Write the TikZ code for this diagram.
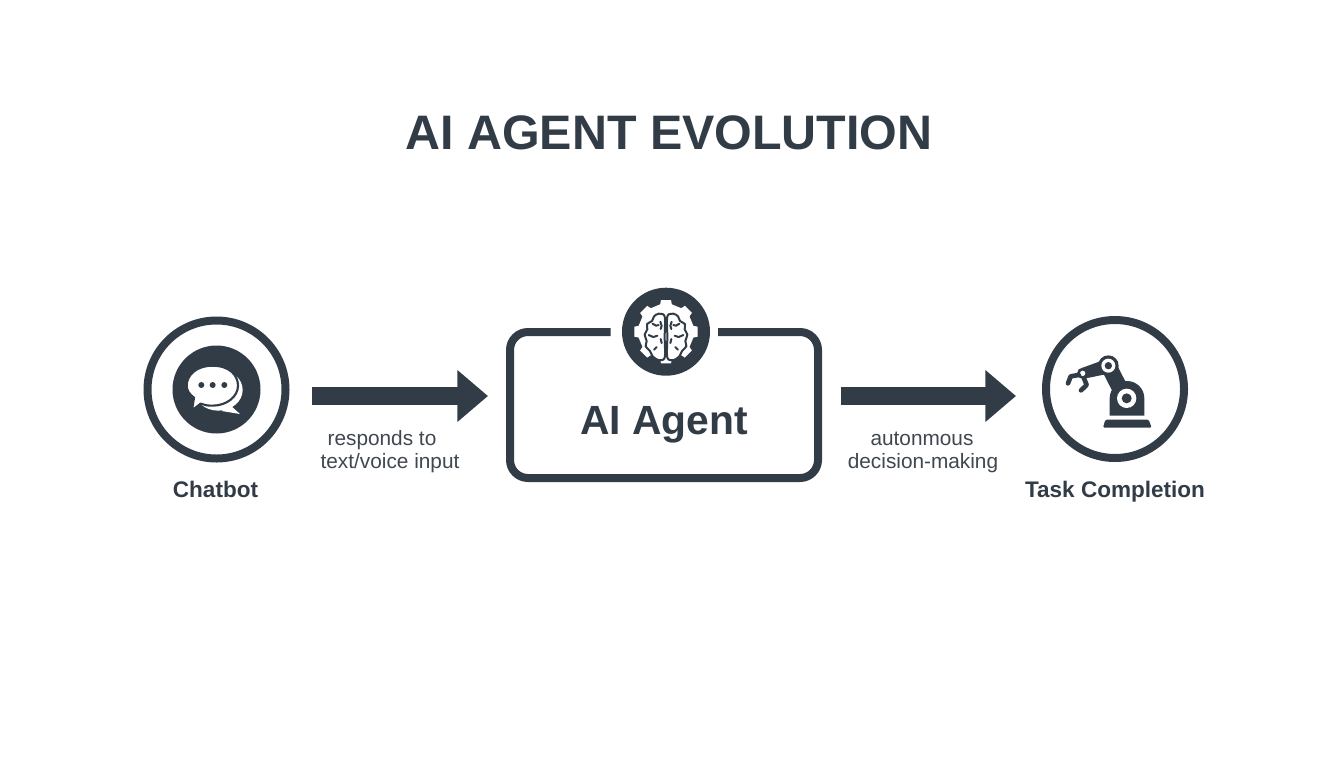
\documentclass[tikz,border=0pt]{standalone}
\usepackage{fontspec}
\setmainfont{Liberation Sans}
\usetikzlibrary{arrows.meta}
\definecolor{ink}{HTML}{323C47}
\definecolor{labelink}{HTML}{3F4750}
\tikzset{
  ringnode/.style={circle,draw=ink,line width=6pt,minimum size=103.5pt,inner sep=0pt},
  framenode/.style={rectangle,minimum width=231pt,minimum height=109.5pt,inner sep=0pt},
  discnode/.style={circle,fill=ink,minimum size=66pt,inner sep=0pt},
  titletext/.style={anchor=base,text=ink,font=\bfseries\fontsize{36.3}{40}\selectfont,inner sep=0pt},
  agenttext/.style={anchor=base,text=ink,font=\bfseries\fontsize{30.6}{34}\selectfont,inner sep=0pt},
  nametext/.style={anchor=base,text=ink,font=\bfseries\fontsize{16.9}{20}\selectfont,inner sep=0pt},
  notetext/.style={anchor=base,text=labelink,font=\fontsize{15.6}{19}\selectfont,inner sep=0pt},
  flowarrow/.style={draw=ink,fill=ink,line width=13.5pt,-{Triangle[length=23pt,width=37.5pt,fill=ink]}},
  dline/.style={draw=ink,line cap=round,line join=round}
}
\begin{document}
\begin{tikzpicture}[x=0.75pt,y=-0.75pt]
\useasboundingbox (0,0) rectangle (1344,768);
\fill[white] (0,0) rectangle (1344,768);

\node[titletext] (title) at (669,149) {AI AGENT EVOLUTION};

% Chatbot
\node[ringnode] (chatbot) at (216.5,389.5) {};
\node[discnode] (chatdisc) at (216.5,389.5) {};
\begin{scope}[shift={(130,305)},x=0.25pt,y=-0.25pt]
  \fill[white] (265,255) ellipse [x radius=73,y radius=62];
  \fill[white] (300,300) -- (330,327) -- (275,318) -- cycle;
  \draw[ink,fill=white,line width=1.6pt,line join=round]
    (247,182) .. controls (300,182) and (324,212) .. (324,242)
    .. controls (324,275) and (290,302) .. (247,302)
    .. controls (232,302) and (222,300) .. (212,296)
    -- (186,316) -- (192,278)
    .. controls (178,268) and (170,256) .. (170,242)
    .. controls (170,210) and (200,182) .. (247,182) -- cycle;
  \foreach \q in {214,248,283}{\fill[ink] (\q,240) circle (9);}
\end{scope}
\node[nametext] (chatlabel) at (215.5,497) {Chatbot};

% AI Agent frame
\node[framenode] (agent) at (664,405) {};
\draw[ink,line width=6pt,rounded corners=13.5pt]
  (610.5,332) -- (510,332) -- (510,478) -- (818,478) -- (818,332) -- (718,332);
\node[discnode] (agentdisc) at (666,331.7) {};
\begin{scope}[shift={(666,331.7)},x=0.25pt,y=-0.25pt]
  % gear
  \fill[white] (-9:84)
    \foreach \g in {0,45,...,315}{
      -- (\g-12:84) -- (\g-9:96) -- (\g+9:96) -- (\g+12:84) -- (\g+33:84)
    } -- cycle;
  % brain
  \foreach \s in {1,-1}{
    \begin{scope}[xscale=\s]
      \draw[ink,fill=white,line width=1.5pt,line join=round]
        plot[smooth cycle,tension=0.5] coordinates {
          (-4,-46) (-22,-54) (-36,-46) (-42,-32) (-57,-23) (-56,-7) (-64,9)
          (-58,28) (-61,44) (-48,58) (-40,74) (-23,85) (-4,78) (-4,15)};
      \draw[dline,line width=1.5pt] (-40,-24) -- (-30,-18) -- (-22,-20);
      \draw[dline,line width=1.5pt] (-17,-30) -- (-13,-18) -- (-16,-8);
      \draw[dline,line width=1.5pt] (-52,10) -- (-38,16) -- (-26,12);
      \draw[dline,line width=1.5pt] (-16,22) -- (-13,34);
      \draw[dline,line width=1.5pt] (-36,54) -- (-28,46);
    \end{scope}
  }
\end{scope}
\node[agenttext] (agentlabel) at (664,434) {AI Agent};

% Task completion
\node[ringnode] (task) at (1115,389) {};
\begin{scope}[shift={(1060,345)},x=0.25pt,y=-0.25pt]
  % base plate
  \fill[ink,rounded corners=1pt] (129,248) -- (136,224) -- (266,224) -- (275,248) -- cycle;
  % body
  \fill[ink] (149,212) -- (149,160) arc[start angle=180,end angle=360,radius=52] -- (253,212) -- cycle;
  % arm
  \draw[ink,line width=12pt] (190,150) -- (145,62);
  \fill[ink] (145,40) -- (68,68) -- (68,102) -- (145,86) -- cycle;
  \fill[ink] (145,62) circle (31);
  \fill[white] (145,62) circle (21);
  \fill[ink] (145,62) circle (11);
  \fill[white] (200,160) circle (29);
  \fill[ink] (200,160) circle (15);
  \fill[ink] (68,85) circle (17);
  \fill[white] (68,85) circle (8);
  % gripper
  \draw[dline,line width=3.5pt] (56,90) -- (32,94) -- (24,115);
  \draw[dline,line width=3.5pt] (72,100) -- (80,120) -- (63,136);
\end{scope}
\node[nametext] (tasklabel) at (1115,497) {Task Completion};

% Connectors
\coordinate (a1s) at (312,396);
\coordinate (a1e) at (488,396);
\coordinate (a2s) at (841,396);
\coordinate (a2e) at (1016,396);
\draw[flowarrow] (a1s) -- (a1e);
\draw[flowarrow] (a2s) -- (a2e);

\node[notetext] (note1a) at (382,445) {responds to};
\node[notetext] (note1b) at (390,468) {text/voice input};
\node[notetext] (note2a) at (922,445) {autonmous};
\node[notetext] (note2b) at (923,468) {decision-making};
\end{tikzpicture}
\end{document}
